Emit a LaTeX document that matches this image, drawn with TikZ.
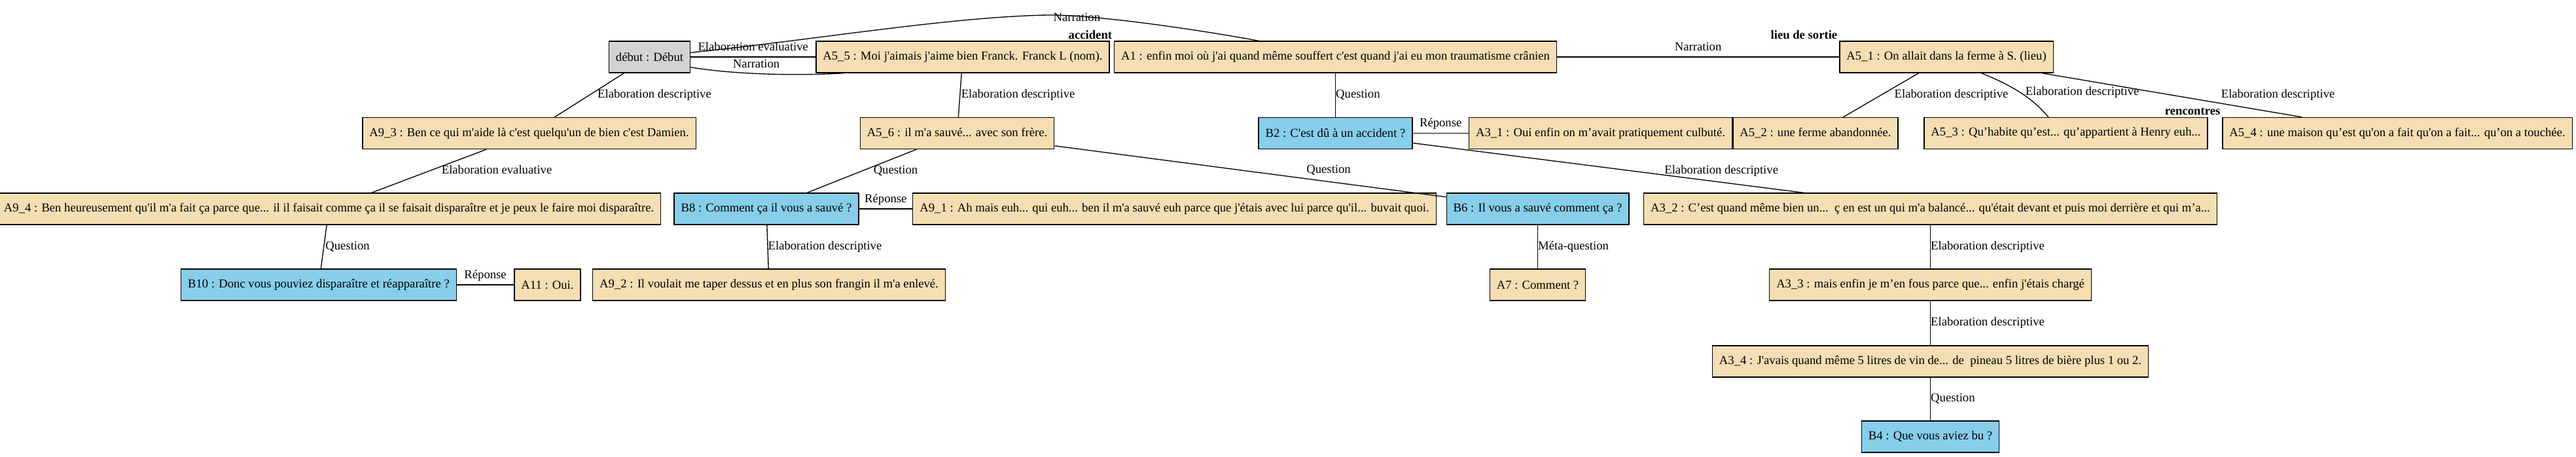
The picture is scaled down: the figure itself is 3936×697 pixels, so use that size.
\documentclass[tikz,border=0pt]{standalone}
\usepackage{fontspec}
\newfontfamily\gvfont{Liberation Serif}
\usepackage{tikz}
\usetikzlibrary{positioning}
\definecolor{myWheat}{HTML}{F5DEB3}
\definecolor{mySkyBlue}{HTML}{87CEEB}
\definecolor{myLightGray}{HTML}{D3D3D3}

\begin{document}
\begin{tikzpicture}[%
        x=0.75pt, y=-0.75pt,
        every node/.style={
            font=\gvfont\fontsize{14}{16}\selectfont,
        },
        box/.style={draw=black, line width=1pt, minimum height=36pt,
            inner xsep=7.9pt, inner ysep=0pt},
        abox/.style={box, fill=myWheat},
        bbox/.style={box, fill=mySkyBlue},
        lbl/.style={inner sep=0pt, text height=9.5pt, text depth=3pt},
        xlbl/.style={font=\gvfont\bfseries\fontsize{14}{16}\selectfont,
            inner sep=2pt},
        rel/.style={line width=1pt},
    ]
    \useasboundingbox (0,0) rectangle (3936,697);

    % first row
    \node[box, fill=myLightGray] (debut) at (992.5,87) {début : Début};
    \node[abox] (a55) at (1471,87) {A5\_5 : Moi j'aimais j'aime bien Franck. Franck L (nom).};
    \node[abox, label={[xlbl]north west:accident}] (a1) at (2040.5,87)
        {A1 : enfin moi où j'ai quand même souffert c'est quand j'ai eu mon traumatisme crânien};
    \node[abox, label={[xlbl]north west:lieu de sortie}] (a51) at (2974,87)
        {A5\_1 : On allait dans la ferme à S. (lieu)};

    % second row
    \node[abox] (a93) at (808.5,203.5) {A9\_3 : Ben ce qui m'aide là c'est quelqu'un de bien c'est Damien.};
    \node[abox] (a56) at (1462.5,203.5) {A5\_6 : il m'a sauvé... avec son frère.};
    \node[bbox] (b2) at (2040.5,203.5) {B2 : C'est dû à un accident ?};
    \node[abox] (a31) at (2445.5,203.5) {A3\_1 : Oui enfin on m’avait pratiquement culbuté.};
    \node[abox] (a52) at (2774,203.5) {A5\_2 : une ferme abandonnée.};
    \node[abox] (a53) at (3156.5,203.5) {A5\_3 : Qu’habite qu’est... qu’appartient à Henry euh...};
    \node[abox, label={[xlbl]north west:rencontres}] (a54) at (3663,203.5)
        {A5\_4 : une maison qu’est qu'on a fait qu'on a fait... qu’on a touchée.};

    % third row
    \node[abox] (a94) at (502.5,319)
        {A9\_4 : Ben heureusement qu'il m'a fait ça parce que... il il faisait comme ça il se faisait disparaître et je peux le faire moi disparaître.};
    \node[bbox] (b8) at (1171,319) {B8 : Comment ça il vous a sauvé ?};
    \node[abox] (a91) at (1794.5,319)
        {A9\_1 : Ah mais euh... qui euh... ben il m'a sauvé euh parce que j'étais avec lui parce qu'il... buvait quoi.};
    \node[bbox] (b6) at (2349.5,319) {B6 : Il vous a sauvé comment ça ?};
    \node[abox] (a32) at (2949.5,319)
        {A3\_2 : C’est quand même bien un...\ \ ç en est un qui m'a balancé... qu'était devant et puis moi derrière et qui m’a...};

    % fourth row and below
    \node[bbox] (b10) at (487,435) {B10 : Donc vous pouviez disparaître et réapparaître ?};
    \node[abox] (a11) at (836.5,435) {A11 : Oui.};
    \node[abox] (a92) at (1175,435) {A9\_2 : Il voulait me taper dessus et en plus son frangin il m'a enlevé.};
    \node[abox] (a7) at (2349.5,435) {A7 : Comment ?};
    \node[abox] (a33) at (2949.5,435) {A3\_3 : mais enfin je m’en fous parce que... enfin j'étais chargé};
    \node[abox] (a34) at (2949.5,552)
        {A3\_4 : J'avais quand même 5 litres de vin de... de\ \ pineau 5 litres de bière plus 1 ou 2.};
    \node[bbox] (b4) at (2949.5,667) {B4 : Que vous aviez bu ?};

    % links inside the first row
    \draw[rel] (debut) -- (a55) node[lbl, midway, above=4pt] {Elaboration evaluative};
    \draw[rel] (debut.-14) .. controls +(70,12) and +(-60,4) .. ([xshift=32pt]a55.south west)
        node[lbl, pos=0.42, above=3pt] {Narration};
    \draw[rel] (debut.6) .. controls (1250,60) and (1450,26) .. (1600,23)
        node[lbl, xshift=34pt, yshift=-4pt] {Narration}
        .. controls (1660,22) and (1800,40) .. ([xshift=-88pt]a1.north);
    \draw[rel] (a1) -- (a51) node[lbl, midway, above=4pt] {Narration};

    % links from first to second row
    \draw[rel] (debut) -- (a93) node[lbl, midway, right=9pt] {Elaboration descriptive};
    \draw[rel] (a55) -- (a56) node[lbl, midway, right=1pt] {Elaboration descriptive};
    \draw[rel] (a1) -- (b2) node[lbl, midway, right] {Question};
    \draw[rel] (a51) -- (a52) node[lbl, midway, right=15pt] {Elaboration descriptive};
    \draw[rel] ([xshift=40pt]a51.south) .. controls +(45,18) and +(-25,-30) .. ([xshift=-20pt]a53.north)
        node[lbl, midway, right=6pt] {Elaboration descriptive};
    \draw[rel] (a51) -- (a54) node[lbl, midway, right=56pt] {Elaboration descriptive};

    % links inside the second row
    \draw[rel] (b2) -- (a31) node[lbl, midway, above=4pt] {Réponse};

    % links from second to third row
    \draw[rel] (a93) -- (a94) node[lbl, midway, right=14pt] {Elaboration evaluative};
    \draw[rel] (a56) -- (b8) node[lbl, midway, right=13pt] {Question};
    \draw[rel] (a56) -- (b6) node[lbl, pos=0.7, above=6pt] {Question};
    \draw[rel] (b2) -- (a32) node[lbl, pos=0.79, above=6pt] {Elaboration descriptive};

    % links inside the third and fourth rows
    \draw[rel] (b8) -- (a91) node[lbl, midway, above=4pt] {Réponse};
    \draw[rel] (b10) -- (a11) node[lbl, midway, above=4pt] {Réponse};

    % links going down
    \draw[rel] (a94) -- (b10) node[lbl, midway, right=1.5pt] {Question};
    \draw[rel] (b8) -- (a92) node[lbl, midway, right] {Elaboration descriptive};
    \draw[rel] (b6) -- (a7) node[lbl, midway, right] {Méta-question};
    \draw[rel] (a32) -- (a33) node[lbl, midway, right] {Elaboration descriptive};
    \draw[rel] (a33) -- (a34) node[lbl, midway, right] {Elaboration descriptive};
    \draw[rel] (a34) -- (b4) node[lbl, midway, right] {Question};

\end{tikzpicture}
\end{document}
